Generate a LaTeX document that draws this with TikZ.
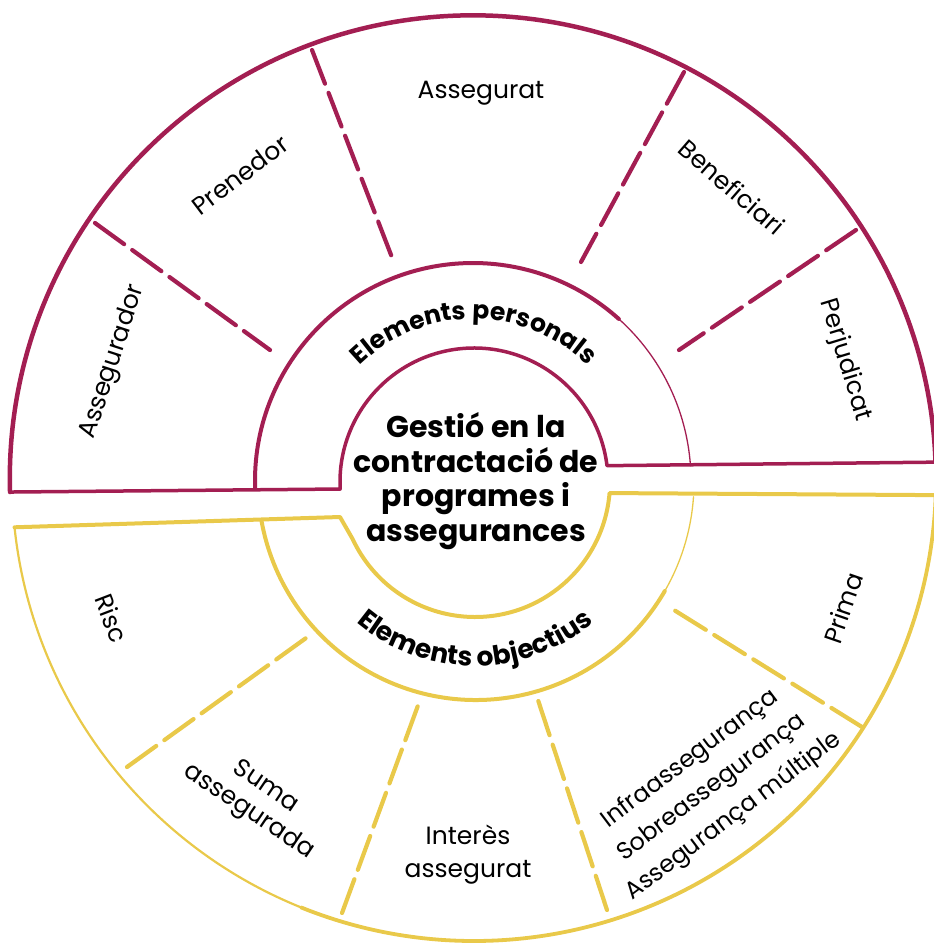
\documentclass[tikz,border=0pt]{standalone}
\usepackage{fontspec}
\setmainfont{Poppins}
\usetikzlibrary{decorations.text}
\definecolor{perscol}{RGB}{163,30,82}
\definecolor{objcol}{RGB}{233,201,74}
\begin{document}
\begin{tikzpicture}[x=1pt, y=-1pt, line cap=round, line join=round,
  outerP/.style={draw=perscol, line width=4.5},
  baseP/.style={draw=perscol, line width=3.5},
  ringP/.style={draw=perscol, line width=4},
  thinP/.style={draw=perscol, line width=1.3},
  dashP/.style={draw=perscol, line width=4.2, dash pattern=on 36 off 10},
  outerO/.style={draw=objcol, line width=3.8},
  outerOthin/.style={draw=objcol, line width=2.2},
  baseO/.style={draw=objcol, line width=4},
  ringO/.style={draw=objcol, line width=4},
  thinO/.style={draw=objcol, line width=1.3},
  dashO/.style={draw=objcol, line width=4.2, dash pattern=on 36 off 10},
  lbl/.style={font=\fontsize{25}{33}\selectfont, align=center, inner sep=0pt},
  core/.style={font=\bfseries\fontsize{30}{34.5}\selectfont, align=center, inner sep=0pt}
]
\useasboundingbox (0,0) rectangle (934,943);
\clip (0,0) rectangle (934,943);

\coordinate (O) at (472.8,478.3);
\coordinate (I) at (474,482);
\coordinate (M) at (473,481);
\coordinate (O2) at (474,479);
\coordinate (I2) at (475,482);
\coordinate (M2) at (476,482);

% ---- Elements personals (top half)
\draw[outerP] ([shift={(O)}]178.3:463) arc[start angle=178.3, end angle=358, radius=463];
\draw[baseP] ([shift={(O)}]358:463) -- ([shift={(I)}]353:134)
  arc[start angle=353, end angle=177, radius=134] -- ([shift={(O)}]178.3:463);
\draw[ringP] ([shift={(M)}]178:218) arc[start angle=178, end angle=312, radius=218];
\draw[thinP] ([shift={(M)}]312:218) arc[start angle=312, end angle=356, radius=218];

\coordinate (pa1) at (95,223);  \coordinate (pb1) at (270,350);
\coordinate (pa2) at (312,50);  \coordinate (pb2) at (393,260);
\coordinate (pa3) at (684,72);  \coordinate (pb3) at (581,262);
\coordinate (pa4) at (856,230); \coordinate (pb4) at (679,350);
\foreach \i in {1,2,3,4} \draw[dashP] (pa\i) -- (pb\i);

% ---- Elements objectius (bottom half)
\draw[outerOthin] ([shift={(O2)}]174:462) arc[start angle=174, end angle=112, radius=462];
\draw[outerO] ([shift={(O2)}]112:462) arc[start angle=112, end angle=2, radius=462];
\draw[baseO] ([shift={(O2)}]2:462) -- ([shift={(I2)}]4.7:135)
  arc[start angle=4.7, end angle=155, radius=135] -- (340,517) -- ([shift={(O2)}]174:462);
\draw[ringO] ([shift={(M2)}]169.7:218) arc[start angle=169.7, end angle=30, radius=218];
\draw[thinO] ([shift={(M2)}]30:218) arc[start angle=30, end angle=3.9, radius=218];

\coordinate (oa1) at (127,767); \coordinate (ob1) at (313,633);
\coordinate (oa2) at (342,913); \coordinate (ob2) at (420,700);
\coordinate (oa3) at (607,910); \coordinate (ob3) at (537,697);
\coordinate (oa4) at (862,727); \coordinate (ob4) at (674,610);
\foreach \i in {1,2,3,4} \draw[dashO] (oa\i) -- (ob\i);

% ---- labels
\node[lbl, rotate=72]  (assegurador) at (113,362) {Assegurador};
\node[lbl, rotate=37]  (prenedor)    at (240,175) {Prenedor};
\node[lbl]             (assegurat)   at (481,93)  {Assegurat};
\node[lbl, rotate=-41] (beneficiari) at (732,187) {Beneficiari};
\node[lbl, rotate=-73] (perjudicat)  at (845,360) {Perjudicat};

\node[lbl, rotate=-69] (risc)    at (112,618) {Risc};
\node[lbl, rotate=-34, font=\fontsize{25}{30}\selectfont] (suma) at (257,800) {Suma\\assegurada};
\node[lbl]             (interes) at (468,855) {Interès\\assegurat};
\node[lbl, rotate=37, font=\fontsize{24}{36}\selectfont] (infra) at (712,788)
  {Infraassegurança\\Sobreassegurança\\Assegurança múltiple};
\node[lbl, rotate=71]  (prima)   at (843,608) {Prima};

\node[core] (gestio) at (476,481) {Gestió en la\\contractació de\\programes i\\assegurances};

\path[decorate, decoration={text along path, text align=center,
  text={|\bfseries\fontsize{25}{30}\selectfont|Elements personals}}]
  ([shift={(I)}]195:163) arc[start angle=195, end angle=345, radius=163];
\path[decorate, decoration={text along path, text align=center,
  text={|\bfseries\fontsize{26.5}{30}\selectfont|Elements objectius}}]
  ([shift={(I2)}]160:184) arc[start angle=160, end angle=20, radius=184];
\end{tikzpicture}
\end{document}
